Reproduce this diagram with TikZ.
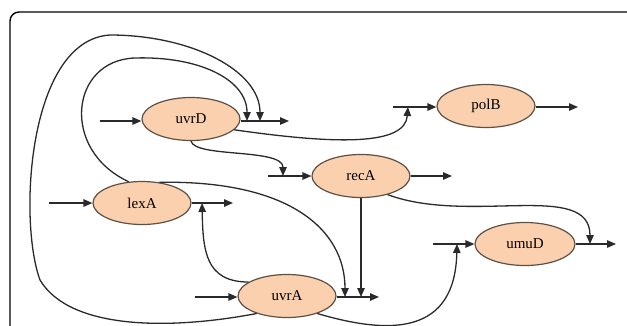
\documentclass[tikz,border=0pt]{standalone}
\usepackage{fontspec}
\setmainfont{Liberation Serif}
\usetikzlibrary{arrows.meta,shapes.geometric}
\definecolor{peach}{HTML}{FAD0AE}
\definecolor{rim}{HTML}{5E5044}
\definecolor{wire}{HTML}{2A2A2A}
\begin{document}
\begin{tikzpicture}[x=1pt,y=-1pt,
  gene/.style={ellipse,draw=rim,fill=peach,line width=1.2pt,inner sep=0pt,
    minimum width=98pt,minimum height=43pt,font=\fontsize{15}{15}\selectfont},
  wirearrow/.style={draw=wire,line width=1.3pt,-{Triangle[length=9pt,width=7.5pt]}}]
\useasboundingbox (0,0) rectangle (627,325);
\clip (0,0) rectangle (627,325);
\draw[black,line width=1.4pt,rounded corners=9pt] (10,12) rectangle (636,345);

% genes
\node[gene] (uvrD) at (191,119) {uvrD};
\node[gene] (polB) at (486,106) {polB};
\node[gene] (recA) at (361,176) {recA};
\node[gene] (lexA) at (142,203) {lexA};
\node[gene] (uvrA) at (287,296) {uvrA};
\node[gene,minimum width=100pt] (umuD) at (525,244) {umuD};

% input / output stubs
\coordinate (uvrDin) at (100,121);
\coordinate (uvrDout) at (289,121);
\coordinate (uvrDj1) at (247,121);
\coordinate (uvrDj2) at (260,121);
\coordinate (polBin) at (393,107);
\coordinate (polBj) at (408,107);
\coordinate (polBout) at (578,107);
\coordinate (recAin) at (268,176);
\coordinate (recAj) at (283,176);
\coordinate (recAout) at (452,176);
\coordinate (lexAin) at (49,203);
\coordinate (lexAj) at (202,203);
\coordinate (lexAout) at (233,203);
\coordinate (uvrAin) at (195,297);
\coordinate (uvrAj1) at (345,297);
\coordinate (uvrAj2) at (361,297);
\coordinate (uvrAout) at (379,297);
\coordinate (umuDin) at (433,244);
\coordinate (umuDj1) at (457,244);
\coordinate (umuDj2) at (590,244);
\coordinate (umuDout) at (616,244);

\draw[wirearrow] (uvrDin) -- (uvrD.west |- uvrDin);
\draw[wirearrow] (uvrD.east |- uvrDout) -- (uvrDout);
\draw[wirearrow] (polBin) -- (polB.west |- polBin);
\draw[wirearrow] (polB.east |- polBout) -- (polBout);
\draw[wirearrow] (recAin) -- (recA.west |- recAin);
\draw[wirearrow] (recA.east |- recAout) -- (recAout);
\draw[wirearrow] (lexAin) -- (lexA.west |- lexAin);
\draw[wirearrow] (lexA.east |- lexAout) -- (lexAout);
\draw[wirearrow] (uvrAin) -- (uvrA.west |- uvrAin);
\draw[wirearrow] (uvrA.east |- uvrAout) -- (uvrAout);
\draw[wirearrow] (umuDin) -- (umuD.west |- umuDin);
\draw[wirearrow] (umuD.east |- umuDout) -- (umuDout);

% regulatory edges
\draw[wirearrow] (uvrD.-14) .. controls (340,145) and (405,145) .. (polBj);
\draw[wirearrow] (uvrD.south) .. controls (195,158) and (283,148) .. (recAj);
\draw[wirearrow] (recA.-35) .. controls (470,225) and (590,180) .. (umuDj2);
\draw[wirearrow] (recA.south) -- (uvrAj2);
\draw[wirearrow] (lexA.50) .. controls (290,180) and (345,230) .. (uvrAj1);
\draw[wirearrow] (uvrA.160) .. controls (205,282) and (203,250) .. (lexAj);
\draw[wirearrow] (uvrA.-30) .. controls (390,335) and (455,335) .. (umuDj1);
\draw[wirearrow] (lexA.122) .. controls (60,150) and (70,60) .. (135,58)
  .. controls (200,56) and (247,80) .. (uvrDj1);
\draw[wirearrow] (uvrA.-150) .. controls (170,330) and (70,330) .. (40,280)
  .. controls (18,220) and (28,40) .. (110,35)
  .. controls (190,35) and (260,70) .. (uvrDj2);
\end{tikzpicture}
\end{document}
